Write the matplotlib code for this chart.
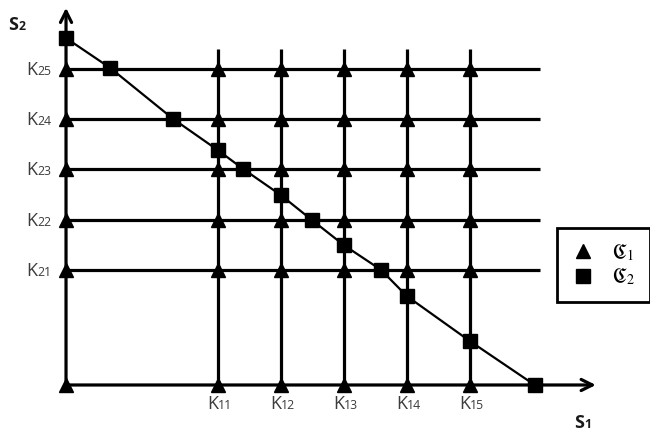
import numpy as np
import matplotlib.pyplot as plt
from matplotlib.font_manager import FontProperties
from matplotlib.lines import Line2D

plt.rcParams['font.family'] = ['Open Sans', 'DejaVu Sans']

# grid positions (strike levels)
k1 = [2.41, 3.41, 4.41, 5.41, 6.41]
k2 = [2.28, 3.27, 4.28, 5.27, 6.26]
k1_labels = ['11', '12', '13', '14', '15']
k2_labels = ['21', '22', '23', '24', '25']

# points on the diagonal (C2)
sq_x = [0.0, 0.70, 1.70, 2.41, 2.81, 3.41, 3.90, 4.41, 5.00, 5.41, 6.41, 7.44]
sq_y = [6.87, 6.28, 5.27, 4.65, 4.28, 3.76, 3.27, 2.77, 2.28, 1.76, 0.87, 0.0]

fig = plt.figure(figsize=(6.5, 4.32), dpi=100)
ax = fig.add_axes([0, 0, 1, 1])
ax.set_xlim(-1.048, 9.27)
ax.set_ylim(-0.931, 7.624)
ax.axis('off')

lw = 2.3
# grid lines
ax.hlines(k2, 0, 7.52, color='black', lw=lw, zorder=1)
ax.vlines(k1, 0, 6.65, color='black', lw=lw, zorder=1)

# axes with arrows
ax.annotate('', xy=(8.41, 0), xytext=(0, 0),
            arrowprops=dict(arrowstyle='->', lw=lw, color='black',
                            mutation_scale=20, shrinkA=0, shrinkB=0))
ax.annotate('', xy=(0, 7.47), xytext=(0, 0),
            arrowprops=dict(arrowstyle='->', lw=lw, color='black',
                            mutation_scale=20, shrinkA=0, shrinkB=0))

# diagonal
ax.plot(sq_x, sq_y, color='black', lw=1.6, zorder=2)

# triangles at every grid crossing
gx, gy = np.meshgrid([0] + k1, [0] + k2)
ax.plot(gx.ravel(), gy.ravel(), ls='none', marker='^', ms=10,
        color='black', zorder=3)
ax.plot(sq_x, sq_y, ls='none', marker='s', ms=10.5, color='black', zorder=4)


def sub_label(x, y, main, sub, size, color, weight='normal'):
    # big letter, then a small index sitting near the baseline
    ax.annotate(main, xy=(x, y), xytext=(0, -4.5), textcoords='offset points',
                ha='right', va='baseline', fontsize=size, color=color,
                fontweight=weight)
    ax.annotate(sub, xy=(x, y), xytext=(0.3, -4.5), textcoords='offset points',
                ha='left', va='baseline', fontsize=size * 0.68, color=color,
                fontweight=weight)


lab_color = '#3c3c3c'
for x, s in zip(k1, k1_labels):
    sub_label(x, -0.36, 'K', s, 13, lab_color)
for y, s in zip(k2, k2_labels):
    sub_label(-0.46, y, 'K', s, 13, lab_color)

sub_label(-0.76, 7.15, 'S', '2', 13, '#1a1a1a', 'bold')
sub_label(8.22, -0.73, 'S', '1', 13, '#1a1a1a', 'bold')

# legend
handles = [Line2D([], [], ls='none', marker='^', ms=10, color='black'),
           Line2D([], [], ls='none', marker='s', ms=10, color='black')]
leg = fig.legend(handles, [r'$\mathfrak{C}_1$', r'$\mathfrak{C}_2$'],
                 loc='upper left', bbox_to_anchor=(0.857, 0.472),
                 bbox_transform=fig.transFigure, borderaxespad=0,
                 fancybox=False, edgecolor='black', framealpha=1,
                 handlelength=1.2, handletextpad=0.85, borderpad=0.7,
                 labelspacing=0.2,
                 prop=FontProperties(size=14.5, math_fontfamily='stix'))
leg.get_frame().set_linewidth(2)

fig.savefig('out.png', dpi=100)
